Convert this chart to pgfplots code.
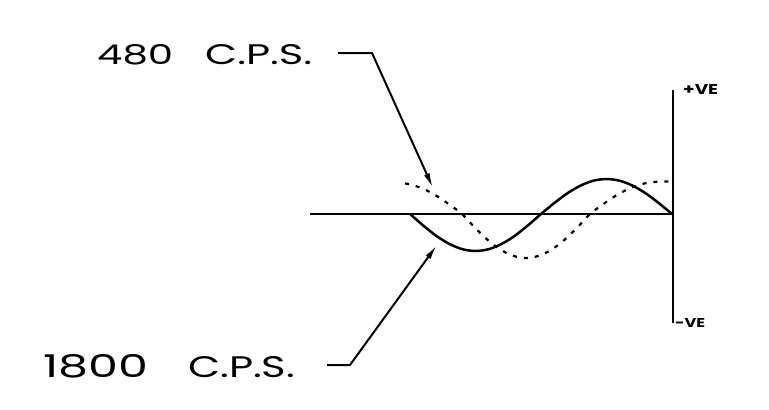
\documentclass[border=0pt]{standalone}
\usepackage{pgfplots}
\pgfplotsset{compat=1.18}
\usepackage{graphicx}
\usepackage{fontspec}
\setmainfont{Poppins}
\usetikzlibrary{arrows.meta}

\begin{document}
\begin{tikzpicture}
\begin{axis}[
    scale only axis,
    width=769bp, height=410bp,
    xmin=0, xmax=769, ymin=0, ymax=410,
    y dir=reverse,
    hide axis,
    clip=false,
]
\draw[draw=none] (rel axis cs:0,0) rectangle (rel axis cs:1,1);

% zero line and vertical axis
\addplot[black, line width=2.3bp] coordinates {(310,214) (673,214)};
\addplot[black, line width=2.6bp] coordinates {(673,90) (673,323)};

% 1800 c.p.s. trace
\addplot[black, line width=2.5bp, smooth] coordinates {
    (410,214) (423.1,225.4) (436.2,235.8) (449.3,243.9) (462.4,249.2)
    (475.5,251) (488.6,249.2) (501.7,243.9) (514.8,235.8) (527.9,225.4)
    (541,214) (554.1,203.2) (567.2,193.4) (580.3,185.7) (593.4,180.7)
    (606.5,179) (619.6,180.7) (632.7,185.7) (645.8,193.4) (658.9,203.2)
    (672,214)
};

% 480 c.p.s. trace
\addplot[black, line width=2.2bp, smooth, dash pattern=on 4bp off 7bp] coordinates {
    (405,183.5) (410.8,184.5) (423.6,188.9) (436.4,195.8) (449.2,204.4)
    (462,214) (474.8,227.6) (487.6,239.9) (500.4,249.6) (513.2,255.8)
    (526,258) (538.8,255.8) (551.6,249.6) (564.4,239.9) (577.2,227.6)
    (590,214) (602.8,204.4) (615.6,195.8) (628.4,188.9) (641.2,184.2)
    (654,182) (666.8,181.5) (672,181.5)
};

% leaders
\addplot[black, line width=2bp, -{Latex[length=15bp,width=6bp]}] coordinates {
    (338,53) (372,53) (433,188)
};
\addplot[black, line width=2bp, -{Latex[length=15bp,width=6bp]}] coordinates {
    (327,365) (350,365) (437,245)
};

% labels
\node[inner sep=0, anchor=south west] at (axis cs:97,65) {\resizebox{76bp}{20bp}{480}};
\node[inner sep=0, anchor=south west] at (axis cs:205,65) {\resizebox{107bp}{20bp}{C.P.S.}};
\node[inner sep=0, anchor=south west] at (axis cs:43,378) {\resizebox{105bp}{23bp}{1800}};
\node[inner sep=0, anchor=south west] at (axis cs:188,378) {\resizebox{107bp}{21bp}{C.P.S.}};
\node[inner sep=0, anchor=south west] at (axis cs:683,95) {\resizebox{35bp}{10bp}{\textbf{+VE}}};
\node[inner sep=0, anchor=south west] at (axis cs:675,328) {\resizebox{30bp}{9bp}{\textbf{-VE}}};
\end{axis}
\end{tikzpicture}
\end{document}
